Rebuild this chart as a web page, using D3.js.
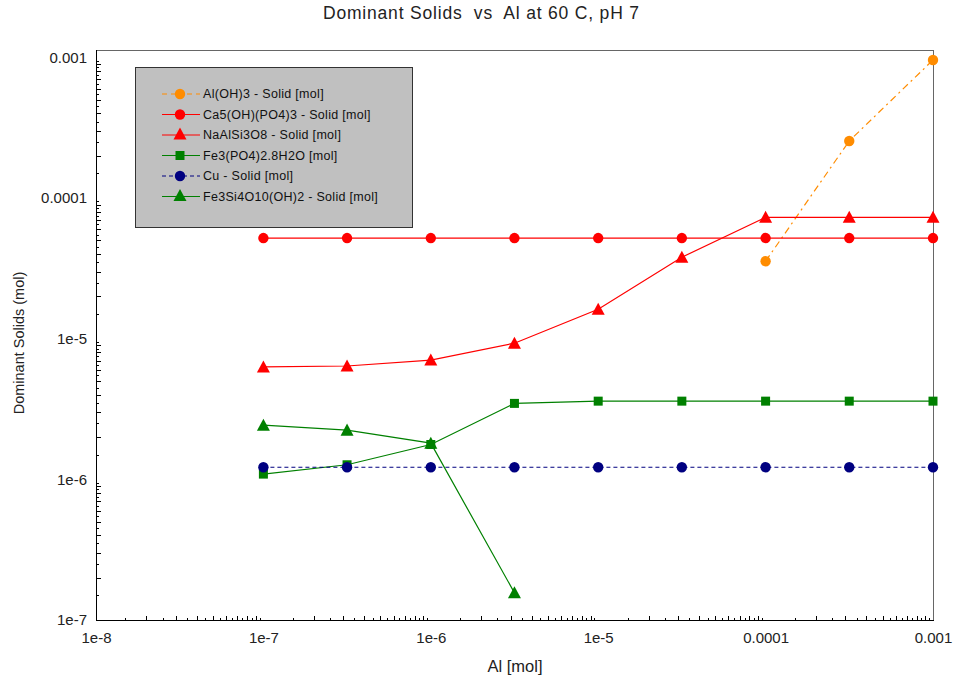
<!DOCTYPE html>
<html>
<head>
<meta charset="utf-8">
<script src="https://cdn.jsdelivr.net/npm/d3@7"></script>
<style>
  html, body { margin: 0; padding: 0; background: #fff; }
  svg { display: block; font-family: "Liberation Sans", Arial, sans-serif; }
</style>
</head>
<body>
<svg id="chart" width="955" height="680"></svg>
<script>
// ---- data ----
const alValues = [1e-7, 3.16e-7, 1e-6, 3.16e-6, 1e-5, 3.16e-5, 1e-4, 3.16e-4, 1e-3];
const alOH3      = [null, null, null, null, null, null, 3.56e-5, 2.55e-4, 9.6e-4];
const ca5OHPO43  = [5.2e-5, 5.2e-5, 5.2e-5, 5.2e-5, 5.2e-5, 5.2e-5, 5.2e-5, 5.2e-5, 5.2e-5];
const naAlSi3O8  = [6.3e-6, 6.4e-6, 7.05e-6, 9.3e-6, 1.62e-5, 3.8e-5, 7.3e-5, 7.3e-5, 7.3e-5];
const fe3PO42    = [1.09e-6, 1.27e-6, 1.77e-6, 3.47e-6, 3.6e-6, 3.6e-6, 3.6e-6, 3.6e-6, 3.6e-6];
const cuSolid    = [1.22e-6, 1.22e-6, 1.22e-6, 1.22e-6, 1.22e-6, 1.22e-6, 1.22e-6, 1.22e-6, 1.22e-6];
const fe3Si4O10  = [2.43e-6, 2.24e-6, 1.81e-6, 1.56e-7, null, null, null, null, null];
const seriesNames = ["Al(OH)3 - Solid [mol]", "Ca5(OH)(PO4)3 - Solid [mol]", "NaAlSi3O8 - Solid [mol]",
                     "Fe3(PO4)2.8H2O [mol]", "Cu - Solid [mol]", "Fe3Si4O10(OH)2 - Solid [mol]"];
const xTickLabels = ["1e-8", "1e-7", "1e-6", "1e-5", "0.0001", "0.001"];
const yTickLabels = ["1e-7", "1e-6", "1e-5", "0.0001", "0.001"];
const titleText = "Dominant Solids  vs  Al at 60 C, pH 7";
const xTitle = "Al [mol]";
const yTitle = "Dominant Solids (mol)";

// ---- styles ----
const styles = [
  { values: alOH3,     color: "#FF8C00", dash: "7,4,2,4", marker: "circle" },
  { values: ca5OHPO43, color: "#FF0000", dash: null,      marker: "circle" },
  { values: naAlSi3O8, color: "#FF0000", dash: null,      marker: "triangle" },
  { values: fe3PO42,   color: "#008000", dash: null,      marker: "square" },
  { values: cuSolid,   color: "#000080", dash: "4,3",     marker: "circle" },
  { values: fe3Si4O10, color: "#008000", dash: null,      marker: "triangle" }
];

const svg = d3.select("#chart");
const L = 96, R = 933, T = 50, B = 620;
const x = d3.scaleLog().domain([1e-8, 1e-3]).range([L, R]);
const yTopVal = Math.pow(10, -3 + 7.5 / 140.6);
const y = d3.scaleLog().domain([1e-7, yTopVal]).range([B, T]);

// frame
svg.append("line").attr("x1", L).attr("x2", R).attr("y1", T + 0.5).attr("y2", T + 0.5).attr("stroke", "#666");
svg.append("line").attr("x1", R + 0.5).attr("x2", R + 0.5).attr("y1", T).attr("y2", B).attr("stroke", "#666");

// minor ticks (every 0.5 within decade)
const minorX = [], minorY = [];
for (let e = -8; e < -3; e++) for (let m = 1.5; m < 10; m += 0.5) minorX.push({ v: m * Math.pow(10, e), big: Number.isInteger(m) });
for (let e = -7; e < -3; e++) for (let m = 1.5; m < 10; m += 0.5) minorY.push({ v: m * Math.pow(10, e), big: Number.isInteger(m) });

const gx = svg.append("g");
gx.selectAll("line.mx").data(minorX).join("line")
  .attr("x1", d => Math.round(x(d.v)) + 0.5).attr("x2", d => Math.round(x(d.v)) + 0.5)
  .attr("y1", B).attr("y2", d => B - (d.big ? 4 : 2)).attr("stroke", "#000");
const gy = svg.append("g");
gy.selectAll("line.my").data(minorY).join("line")
  .attr("y1", d => Math.round(y(d.v)) + 0.5).attr("y2", d => Math.round(y(d.v)) + 0.5)
  .attr("x1", L).attr("x2", d => L + (d.big ? 5 : 3)).attr("stroke", "#000");

// axes via d3
const xMajor = xTickLabels.map((t, i) => Math.pow(10, -8 + i));
const yMajor = yTickLabels.map((t, i) => Math.pow(10, -7 + i));
const xAxis = d3.axisBottom(x).tickValues(xMajor).tickSize(0).tickPadding(12)
  .tickFormat((d, i) => xTickLabels[i]);
const yAxis = d3.axisLeft(y).tickValues(yMajor).tickSize(0).tickPadding(9)
  .tickFormat((d, i) => yTickLabels[i]);
const ax = svg.append("g").attr("transform", `translate(0,${B})`).call(xAxis);
const ay = svg.append("g").attr("transform", `translate(${L},0)`).call(yAxis);
[ax, ay].forEach(g => {
  g.select(".domain").remove();
  g.selectAll("text").attr("font-size", 15).attr("fill", "#222")
    .attr("font-family", "'Liberation Sans', Arial, sans-serif");
});
ax.selectAll("text").attr("dy", "0.71em");
// y axis line & x axis line
svg.append("line").attr("x1", L + 0.5).attr("x2", L + 0.5).attr("y1", T).attr("y2", B).attr("stroke", "#000");
svg.append("line").attr("x1", L).attr("x2", R + 1).attr("y1", B + 0.5).attr("y2", B + 0.5).attr("stroke", "#000");

// titles
svg.append("text").attr("x", 481).attr("y", 19).attr("text-anchor", "middle")
  .attr("xml:space", "preserve").style("white-space", "pre")
  .attr("font-size", 17.5).attr("textLength", 316).attr("lengthAdjust", "spacing")
  .attr("fill", "#222").text(titleText);
svg.append("text").attr("x", 515).attr("y", 672).attr("text-anchor", "middle")
  .attr("font-size", 16.5).attr("fill", "#222").text(xTitle);
svg.append("text").attr("transform", "translate(24,343) rotate(-90)").attr("text-anchor", "middle")
  .attr("font-size", 14.5).attr("fill", "#222").text(yTitle);

// markers
function drawMarker(g, type, cx, cy, color, scale = 1) {
  if (type === "circle") {
    g.append("circle").attr("cx", cx).attr("cy", cy).attr("r", 5.2 * scale).attr("fill", color);
  } else if (type === "triangle") {
    const s = 6.5 * scale;
    g.append("path").attr("d", `M${cx},${cy - s}L${cx + s},${cy + s * 0.85}L${cx - s},${cy + s * 0.85}Z`).attr("fill", color);
  } else if (type === "square") {
    const s = 4.5 * scale;
    g.append("rect").attr("x", cx - s).attr("y", cy - s).attr("width", 2 * s).attr("height", 2 * s).attr("fill", color);
  }
}

const plot = svg.append("g");
const line = d3.line().defined(d => d.v != null).x(d => x(d.x)).y(d => y(d.v));
styles.forEach(s => {
  const pts = alValues.map((xv, i) => ({ x: xv, v: s.values[i] }));
  const g = plot.append("g");
  g.append("path").datum(pts).attr("d", line).attr("fill", "none")
    .attr("stroke", s.color).attr("stroke-width", 1.2)
    .attr("stroke-dasharray", s.dash);
  pts.filter(p => p.v != null).forEach(p => drawMarker(g, s.marker, x(p.x), y(p.v), s.color));
});

// legend
const lg = svg.append("g");
lg.append("rect").attr("x", 135.5).attr("y", 67.5).attr("width", 277).attr("height", 160)
  .attr("fill", "#C0C0C0").attr("stroke", "#333").attr("stroke-width", 1);
const rowY = [94, 114.5, 135, 155.5, 176, 196.5];
styles.forEach((s, i) => {
  const yy = rowY[i];
  if (s.dash) {
    lg.append("line").attr("x1", 162).attr("x2", 200).attr("y1", yy).attr("y2", yy)
      .attr("stroke", s.color).attr("stroke-width", 1.2).attr("stroke-dasharray", i === 0 ? "5,4,12,4" : "4,3");
  } else {
    lg.append("line").attr("x1", 162).attr("x2", 200).attr("y1", yy).attr("y2", yy)
      .attr("stroke", s.color).attr("stroke-width", 1.2);
  }
  drawMarker(lg, s.marker, 180, yy - (s.marker === "triangle" ? 1 : 0), s.color);
  lg.append("text").attr("x", 203).attr("y", yy).attr("dy", "0.35em")
    .attr("font-size", 12.5).attr("letter-spacing", "0.3px").attr("fill", "#111").text(seriesNames[i]);
});
</script>
</body>
</html>
